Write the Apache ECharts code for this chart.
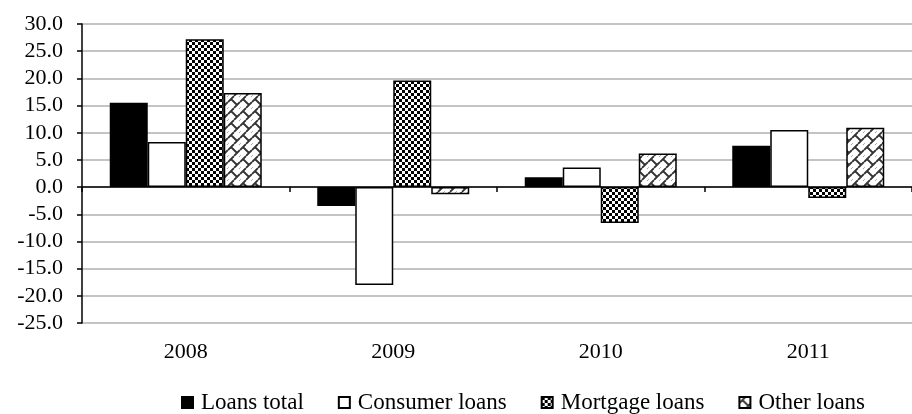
<!DOCTYPE html>
<html>
<head>
<meta charset="utf-8">
<script src="https://cdn.jsdelivr.net/npm/echarts@6/dist/echarts.min.js"></script>
<style>
  html, body { margin: 0; padding: 0; background: #fff; }
  #chart { width: 912px; height: 414px; }
</style>
</head>
<body>
<div id="chart"></div>
<script>
const years = ['2008', '2009', '2010', '2011']
const loansTotal = [15.5, -3.5, 1.8, 7.6]
const consumerLoans = [8.3, -18.0, 3.6, 10.5]
const mortgageLoans = [27.2, 19.6, -6.6, -2.0]
const otherLoans = [17.3, -1.3, 6.2, 10.9]

function checker() {
    const c = document.createElement('canvas')
    c.width = 6; c.height = 6
    const ctx = c.getContext('2d')
    ctx.fillStyle = '#fff'
    ctx.fillRect(0, 0, 6, 6)
    ctx.fillStyle = '#000'
    ctx.fillRect(0, 0, 3, 3)
    ctx.fillRect(3, 3, 3, 3)
    return { image: c, repeat: 'repeat' }
}

// rough "weave" fill: short diagonal strokes alternating direction
function weave() {
    const c = document.createElement('canvas')
    c.width = 12; c.height = 12
    const ctx = c.getContext('2d')
    ctx.fillStyle = '#fff'
    ctx.fillRect(0, 0, 12, 12)
    ctx.strokeStyle = '#333'
    ctx.lineWidth = 1.8
    ctx.beginPath()
    ctx.moveTo(0, 6); ctx.lineTo(6, 0)
    ctx.moveTo(6, 12); ctx.lineTo(12, 6)
    ctx.moveTo(3, 3); ctx.lineTo(9, 9)
    ctx.moveTo(-3, 9); ctx.lineTo(0, 12)
    ctx.moveTo(9, -3); ctx.lineTo(12, 0)
    ctx.stroke()
    return { image: c, repeat: 'repeat' }
}

const font = '"Liberation Serif", "Times New Roman", serif'

function bar(name, data, color) {
    return {
        name: name,
        type: 'bar',
        data: data,
        barWidth: 38,
        barGap: 0,
        itemStyle: { color: color, borderColor: '#000', borderWidth: 1.5 },
        emphasis: { disabled: true }
    }
}

const chart = echarts.init(document.getElementById('chart'))
chart.setOption({
    backgroundColor: '#fff',
    animation: false,
    textStyle: { fontFamily: font },
    grid: { left: 82, right: -14, top: 24, bottom: 91 },
    legend: {
        left: 176,
        top: 386,
        itemWidth: 11,
        itemHeight: 11,
        itemGap: 34,
        icon: 'rect',
        textStyle: { fontFamily: font, fontSize: 23, color: '#000', padding: [0, 0, 0, 3] },
        data: ['Loans total', 'Consumer loans', 'Mortgage loans', 'Other loans']
    },
    xAxis: [{
        type: 'category',
        data: years,
        position: 'bottom',
        axisLine: { show: false, onZero: false },
        axisTick: { show: false },
        axisLabel: { margin: 18, fontSize: 22, color: '#000', fontFamily: font }
    }, {
        type: 'category',
        data: years,
        position: 'bottom',
        axisLine: { show: true, onZero: true, lineStyle: { color: '#000', width: 1.5 } },
        axisTick: { show: true, length: 5, lineStyle: { color: '#000', width: 1.5 } },
        axisLabel: { show: false }
    }],
    yAxis: {
        type: 'value',
        min: -25,
        max: 30,
        interval: 5,
        axisLine: { show: true, lineStyle: { color: '#000', width: 1.5 } },
        axisTick: { show: true, length: 5, lineStyle: { color: '#000', width: 1.5 } },
        splitLine: { lineStyle: { color: '#c4c4c4', width: 2 } },
        axisLabel: {
            margin: 19,
            fontSize: 22,
            color: '#000',
            fontFamily: font,
            formatter: v => v.toFixed(1)
        }
    },
    series: [
        bar('Loans total', loansTotal, '#000'),
        bar('Consumer loans', consumerLoans, '#fff'),
        bar('Mortgage loans', mortgageLoans, checker()),
        bar('Other loans', otherLoans, weave())
    ]
})
</script>
</body>
</html>
